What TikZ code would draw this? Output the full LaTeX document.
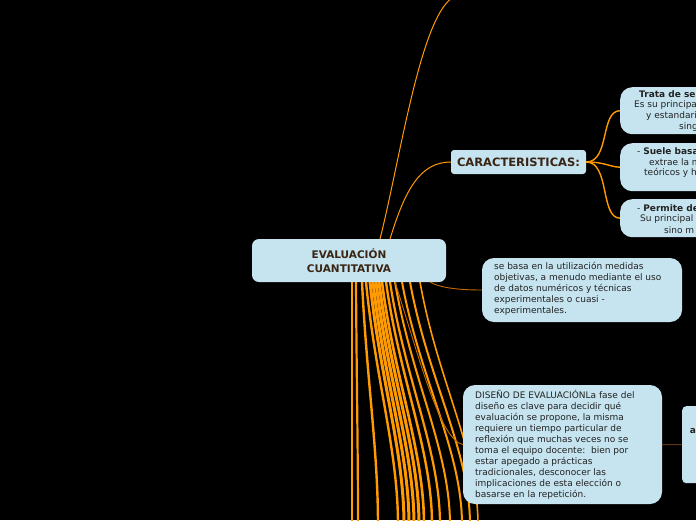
\documentclass[tikz,border=0pt]{standalone}
\usepackage{fontspec}
\setmainfont{DejaVu Sans}
\begin{document}
\begin{tikzpicture}[x=1pt,y=-1pt,
 box/.style={fill=boxc,rounded corners=7pt,text=txt,font=\fontsize{9}{11}\selectfont,inner sep=0pt},
 sm/.style={font=\fontsize{9}{10}\selectfont,text=txt,anchor=west,inner sep=0pt},
 conn/.style={draw=org,line width=1pt}]
\definecolor{boxc}{HTML}{C5E4F0}
\definecolor{org}{HTML}{FF9A00}
\definecolor{dorg}{HTML}{C56A00}
\definecolor{txt}{HTML}{222222}
\definecolor{brn}{HTML}{3A2414}
\fill[black] (0,0) rectangle (696,520);
\useasboundingbox (0,0) rectangle (696,520);
\clip (0,0) rectangle (696,520);
\foreach \a/\b/\w in {352/352/2.6,356/358/2.2,362/378/2.4,366/398/2.4,370/404/3,373/409/3,376/414/3,379/419/3,382/424/2.6,386/432/2.4,390/440/2.2,395/450/2,402/462/2,410/470/2,420/478/1.6}{
 \pgfmathsetmacro\m{\a+(\b-\a)*0.3}
 \draw[org,line width=\w pt] (\a,282) .. controls (\m,380) and (\b,450) .. (\b,525);}
\coordinate (topend) at (452,-2);
\node[box,minimum width=194pt,minimum height=43pt,font=\bfseries\fontsize{10.5}{14}\selectfont,text=brn,align=center] (main) at (349,260.5) {EVALUACIÓN\\CUANTITATIVA};
\draw[conn] (380,239) .. controls (400,160) and (420,20) .. (topend);
\node[box,rounded corners=3pt,minimum width=135pt,minimum height=24pt,font=\bfseries\fontsize{11.5}{12}\selectfont,text=brn] (car) at (518.5,162) {CARACTERISTICAS:};
\draw[conn] (390,239) .. controls (405,190) and (420,162) .. (car.west);
\node[box,rounded corners=12pt,minimum width=100pt,minimum height=47pt,anchor=north west] (c1) at (620,87) {};
\node[box,rounded corners=12pt,minimum width=100pt,minimum height=48pt,anchor=north west] (c2) at (620,143) {};
\node[box,rounded corners=12pt,minimum width=100pt,minimum height=38pt,anchor=north west] (c3) at (620,199) {};
\node[sm] at (639,94) {\textbf{Trata de se}};
\node[sm] at (634,105.5) {Es su principa};
\node[sm] at (646,116.5) {y estandari};
\node[sm] at (679,127.5) {sing};
\node[sm] at (637,151) {- \textbf{Suele basa}};
\node[sm] at (649,162) {extrae la m};
\node[sm] at (644,173) {teóricos y h};
\node[sm] at (637,208) {- \textbf{Permite de}};
\node[sm] at (640,219) {Su principal};
\node[sm] at (664,230) {sino m};
\draw[conn,line width=1.4pt] (car.east) .. controls (610,162) and (600,111) .. (c1.west);
\draw[conn,line width=1.4pt] (car.east) .. controls (605,162) and (610,167) .. (c2.west);
\draw[conn,line width=1.4pt] (car.east) .. controls (610,162) and (600,218) .. (c3.west);
\node[box,rounded corners=12pt,minimum width=200pt,minimum height=64pt] (basa) at (582,290) {};
\node[box,fill=none,anchor=north west,text width=190pt,align=flush left] at (494,262) {se basa en la utilización medidas\\objetivas, a menudo mediante el uso\\de datos numéricos y técnicas\\experimentales o cuasi -\\experimentales.};
\draw[dorg,line width=0.9pt] (430,282) .. controls (440,288) and (460,290) .. (basa.west);
\node[box,rounded corners=12pt,minimum width=199pt,minimum height=119pt] (dis) at (562.5,444.5) {};
\node[box,fill=none,anchor=north west,text width=185pt,align=flush left] at (475,390) {DISEÑO DE EVALUACIÓNLa fase del\\diseño es clave para decidir qué\\evaluación se propone, la misma\\requiere un tiempo particular de\\reflexión que muchas veces no se\\toma el equipo docente:\ \ bien por\\estar apegado a prácticas\\tradicionales, desconocer las\\implicaciones de esta elección o\\basarse en la repetición.};
\draw[dorg,line width=0.9pt] (395,282) .. controls (420,360) and (440,440) .. (dis.west);
\node[box,rounded corners=4pt,minimum width=40pt,minimum height=77pt,anchor=north west] (far) at (682,406) {};
\node[font=\bfseries\fontsize{9}{9}\selectfont,text=txt] at (693,431) {a};
\draw[brn!80!orange,line width=1pt] (dis.east) -- (far.west);
\end{tikzpicture}
\end{document}
